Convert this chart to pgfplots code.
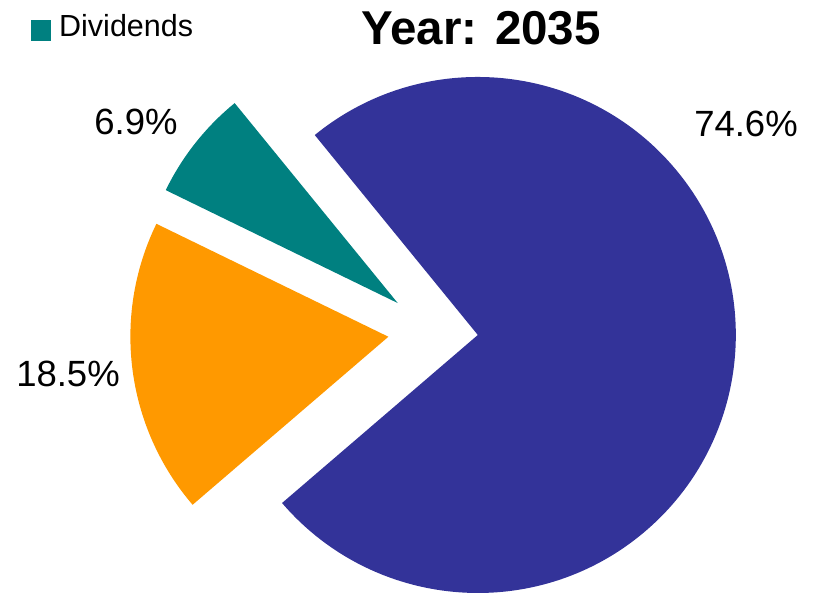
\documentclass[border=0pt]{standalone}
\usepackage{pgfplots}
\pgfplotsset{compat=1.18}
\usepackage{pgfplotstable}
\usepackage{fontspec}
\setmainfont{Liberation Sans}

\definecolor{cDiv}{HTML}{008080}
\definecolor{cOrg}{HTML}{FF9900}
\definecolor{cBlu}{HTML}{333399}

% shares in percent, drawn clockwise from the start angle
\pgfplotstableread{
name  share
blue  74.6
orange 18.5
teal  6.9
}\piedata

\def\startang{129.2}
\def\rad{258pt}
\def\expl{45pt}

\pgfplotstablegetelem{0}{share}\of\piedata \let\sA\pgfplotsretval
\pgfplotstablegetelem{1}{share}\of\piedata \let\sB\pgfplotsretval
\pgfplotstablegetelem{2}{share}\of\piedata \let\sC\pgfplotsretval
\pgfmathsetmacro\aA{\startang}
\pgfmathsetmacro\aB{\aA-3.6*\sA}
\pgfmathsetmacro\aC{\aB-3.6*\sB}
\pgfmathsetmacro\aD{\aC-3.6*\sC}
\pgfmathsetmacro\mA{(\aA+\aB)/2}
\pgfmathsetmacro\mB{(\aB+\aC)/2}
\pgfmathsetmacro\mC{(\aC+\aD)/2}

\begin{document}
\begin{tikzpicture}
\begin{axis}[
    x=1pt, y=1pt,
    xmin=0, xmax=821, ymin=0, ymax=594,
    hide axis, clip=false,
]
    \coordinate (bl) at (axis cs:0,0);
    \coordinate (tr) at (axis cs:821,594);
    % slices
    \fill[cBlu] (axis cs:433,263) ++(\mA:\expl) -- ++(\aA:\rad)
        arc[start angle=\aA, end angle=\aB, radius=\rad] -- cycle;
    \fill[cOrg] (axis cs:433,263) ++(\mB:\expl) -- ++(\aB:\rad)
        arc[start angle=\aB, end angle=\aC, radius=\rad] -- cycle;
    \fill[cDiv] (axis cs:433,263) ++(\mC:\expl) -- ++(\aC:\rad)
        arc[start angle=\aC, end angle=\aD, radius=\rad] -- cycle;
    % labels
    \node[anchor=base, font=\fontsize{36.5}{40}\selectfont] at (axis cs:746,457) {74.6\%};
    \node[anchor=base, font=\fontsize{36.5}{40}\selectfont] at (axis cs:136,459) {6.9\%};
    \node[anchor=base, font=\fontsize{36.5}{40}\selectfont] at (axis cs:68,207) {18.5\%};
    % title
    \node[anchor=base, font=\fontsize{47.5}{52}\selectfont\bfseries] at (axis cs:481,549) {Year: 2035};
    % legend
    \fill[cDiv] (axis cs:31,553) rectangle (axis cs:50.7,573.5);
    \node[anchor=base west, inner sep=0pt, font=\fontsize{30.5}{34}\selectfont] at (axis cs:59,557) {Dividends};
\end{axis}
\pgfresetboundingbox
\path[use as bounding box] (bl) rectangle (tr);
\end{tikzpicture}
\end{document}
